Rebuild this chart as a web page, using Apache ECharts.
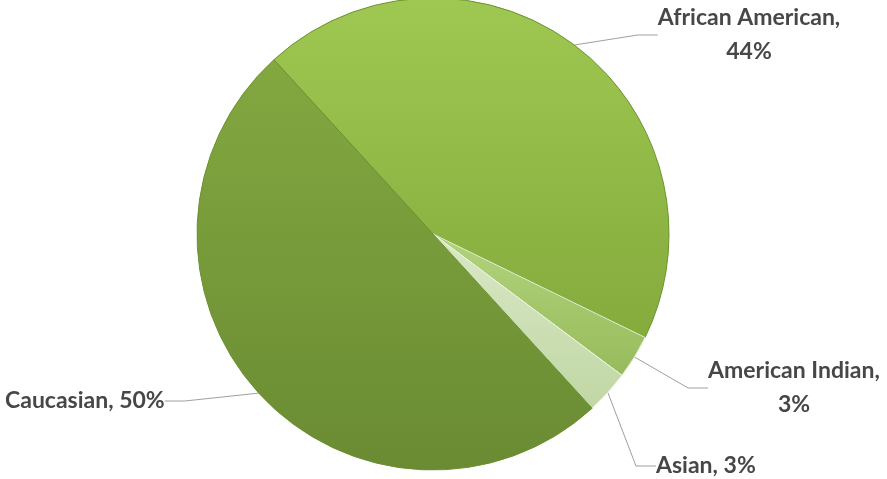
<!DOCTYPE html>
<html>
<head>
<meta charset="utf-8">
<script src="https://cdn.jsdelivr.net/npm/echarts@6/dist/echarts.min.js"></script>
<style>
  html, body { margin: 0; padding: 0; background: #ffffff; }
  #chart { width: 887px; height: 479px; }
</style>
</head>
<body>
<div id="chart"></div>
<script>
// Share of group, in percent
const categories = ['African American', 'American Indian', 'Asian', 'Caucasian'];
const shares = [44, 3, 3, 50];

// Slice fills: top and bottom stop of each vertical gradient
const fillTop = ['#9fc852', '#b2d37d', '#dae8c7', '#83a840'];
const fillBottom = ['#84ab3c', '#97bb5b', '#c0d7a4', '#6a8b33'];
const edgeColors = ['#6c922f', '#e4efd4', '#eef5e4', '#6c922f'];

// Where each label sits (text anchor) and how it is aligned
const labelSpots = [
  { x: 749, y: 35, align: 'center' },
  { x: 794, y: 388, align: 'center' },
  { x: 656, y: 466, align: 'left' },
  { x: 5, y: 401, align: 'left' }
];

const chart = echarts.init(document.getElementById('chart'), null, { renderer: 'canvas' });

const data = categories.map((name, i) => ({
  name,
  value: shares[i],
  itemStyle: {
    color: new echarts.graphic.LinearGradient(0, 0, 0, 1, [
      { offset: 0, color: fillTop[i] },
      { offset: 1, color: fillBottom[i] }
    ]),
    borderColor: edgeColors[i],
    borderWidth: 1
  }
}));

chart.setOption({
  animation: false,
  backgroundColor: '#ffffff',
  series: [{
    type: 'pie',
    center: [433, 234],
    radius: 236,
    startAngle: 132.4,
    clockwise: true,
    data,
    label: {
      show: true,
      position: 'outside',
      formatter: p => p.dataIndex <= 1 ? p.name + ',\n' + p.value + '%' : p.name + ', ' + p.value + '%',
      fontFamily: 'Lato, "Open Sans", sans-serif',
      fontWeight: 'bold',
      fontSize: 23,
      lineHeight: 34,
      color: '#474747'
    },
    labelLine: {
      show: true,
      length: 20,
      length2: 20,
      lineStyle: { color: '#a0a0a0', width: 1 }
    },
    labelLayout: params => {
      const s = labelSpots[params.dataIndex];
      return { x: s.x, y: s.y, align: s.align, verticalAlign: 'middle' };
    }
  }]
});
</script>
</body>
</html>
